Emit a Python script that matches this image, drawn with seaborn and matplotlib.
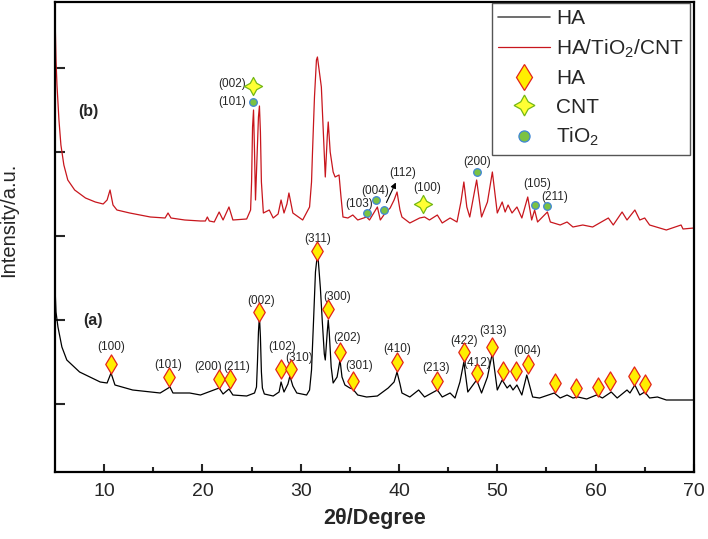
import matplotlib
matplotlib.use("Agg")
import matplotlib.pyplot as plt
from matplotlib.lines import Line2D
import seaborn as sns

# XRD patterns: 2theta (deg) and intensity (arb. units)
ha_2theta = [5.0, 5.1, 5.3, 5.7, 6.2, 7.5, 9.6, 10.3, 10.7, 11.1, 12.9, 15.7, 16.7, 17.0,
             18.7, 19.8, 21.7, 22.1, 22.7, 23.1, 24.5, 25.3, 25.5, 25.6, 25.7, 25.8, 25.9,
             26.0, 26.1, 26.3, 27.2, 27.8, 28.0, 28.3, 28.7, 28.9, 29.2, 29.6, 30.6, 30.9,
             31.1, 31.3, 31.5, 31.7, 31.8, 32.0, 32.2, 32.4, 32.5, 32.7, 32.8, 32.9, 33.1,
             33.3, 33.7, 34.0, 34.2, 34.5, 35.0, 35.3, 35.8, 36.7, 37.8, 38.9, 39.5, 39.8,
             40.1, 40.3, 41.1, 42.0, 42.6, 43.9, 44.4, 45.2, 45.7, 46.2, 46.6, 47.0, 47.9,
             48.4, 49.0, 49.5, 50.0, 50.5, 51.0, 51.3, 51.6, 52.0, 52.5, 53.0, 53.6, 54.3,
             55.8, 56.4, 57.1, 57.7, 58.2, 59.1, 60.1, 60.7, 61.6, 62.2, 63.2, 63.5, 64.0,
             64.5, 65.0, 65.5, 66.3, 67.2, 70.0]
ha_int = [185, 160, 145, 125, 112, 100, 90, 89, 99, 87, 82, 79, 85, 79,
          79, 77, 84, 78, 83, 77, 76, 79, 85, 110, 140, 156, 135,
          100, 84, 78, 76, 80, 90, 80, 88, 96, 86, 79, 77, 82,
          102, 150, 200, 218, 210, 184, 150, 118, 112, 140, 152, 140, 105,
          89, 95, 112, 95, 87, 84, 83, 77, 75, 76, 84, 90, 100,
          88, 79, 75, 82, 75, 82, 75, 79, 74, 90, 110, 80, 92,
          79, 95, 119, 82, 92, 84, 87, 82, 87, 77, 97, 75, 74,
          79, 74, 77, 74, 75, 73, 77, 74, 80, 74, 82, 79, 87,
          77, 80, 74, 75, 72, 72]

comp_2theta = [5.0, 5.1, 5.2, 5.4, 5.6, 5.9, 6.3, 7.0, 8.1, 9.1, 9.9, 10.3, 10.6, 10.9,
               11.3, 12.6, 14.7, 16.2, 16.5, 16.8, 18.2, 19.8, 20.3, 20.5, 20.7, 21.2,
               21.7, 22.1, 22.7, 23.1, 24.5, 24.9, 25.0, 25.1, 25.2, 25.3, 25.4, 25.5,
               25.7, 25.8, 25.9, 26.0, 26.2, 26.8, 27.2, 27.7, 28.0, 28.3, 28.6, 28.8,
               29.2, 30.2, 30.9, 31.1, 31.2, 31.4, 31.6, 31.7, 31.9, 32.1, 32.3, 32.5,
               32.7, 32.8, 33.0, 33.3, 33.5, 33.9, 34.1, 34.3, 34.8, 35.3, 35.8, 36.7,
               37.0, 37.8, 38.1, 38.6, 39.1, 39.5, 39.8, 40.1, 40.3, 41.1, 42.1, 42.6,
               43.1, 43.9, 44.4, 45.2, 45.9, 46.3, 46.6, 46.9, 47.2, 47.9, 48.4, 49.0,
               49.5, 50.0, 50.5, 50.8, 51.1, 51.5, 52.0, 52.5, 53.1, 53.5, 53.8, 54.1,
               55.1, 55.4, 56.4, 57.1, 57.7, 58.7, 59.7, 61.3, 61.8, 62.7, 63.2, 64.0,
               64.5, 65.0, 65.5, 67.2, 68.7, 68.9, 70.0]
comp_int = [457, 412, 387, 352, 327, 307, 292, 282, 274, 270, 268, 272, 282, 267,
            262, 259, 255, 254, 259, 254, 252, 251, 251, 255, 251, 250,
            260, 252, 265, 252, 253, 262, 290, 345, 362, 320, 272, 300,
            355, 366, 340, 290, 259, 262, 254, 258, 272, 259, 268, 279,
            259, 252, 265, 290, 320, 375, 412, 415, 400, 385, 340, 295,
            335, 350, 320, 300, 295, 297, 275, 255, 254, 257, 252, 255,
            252, 265, 252, 259, 264, 272, 280, 262, 255, 249, 254, 255,
            252, 257, 249, 254, 250, 270, 290, 265, 255, 292, 255, 270,
            300, 259, 270, 260, 267, 259, 265, 254, 275, 252, 262, 250,
            260, 250, 247, 250, 245, 247, 245, 254, 247, 260, 252, 262,
            252, 254, 247, 242, 247, 243, 244]

# HA reflections marked on pattern (a)
ha_mark_x = [10.7, 16.6, 21.7, 22.8, 25.8, 28.0, 29.0, 31.7, 32.8, 34.0, 35.3, 39.8,
             43.9, 46.6, 47.9, 49.5, 50.6, 51.9, 53.1, 55.9, 58.0, 60.2, 61.5, 63.9, 65.0]
ha_mark_y = [108, 95, 93, 93, 160, 103, 103, 221, 163, 120, 91, 110,
             91, 120, 99, 125, 101, 101, 108, 89, 84, 85, 91, 96, 88]
ha_hkl = ["(100)", "(101)", "(200)", "(211)", "(002)", "(102)", "(310)", "(311)", "(300)",
          "(202)", "(301)", "(410)", "(213)", "(422)", "(412)", "(313)", "", "", "(004)",
          "", "", "", "", "", ""]
ha_hkl_x = [10.7, 16.5, 20.6, 23.5, 26.0, 28.1, 29.8, 31.7, 33.7, 34.7, 35.9, 39.8,
            43.8, 46.6, 47.9, 49.6, 0, 0, 53.0, 0, 0, 0, 0, 0, 0]
ha_hkl_y = [125, 107, 105, 105, 171, 125, 114, 233, 175, 134, 106, 123,
            104, 131, 109, 141, 0, 0, 121, 0, 0, 0, 0, 0, 0]

# TiO2 and CNT reflections marked on pattern (b)
tio2_x = [25.1, 36.7, 37.7, 38.5, 47.9, 53.8, 55.1]
tio2_y = [370, 259, 272, 262, 300, 267, 266]
tio2_hkl = ["(101)", "(103)", "(004)", "(112)", "(200)", "(105)", "(211)"]
tio2_hkl_x = [23.0, 35.9, 37.6, 40.4, 47.9, 54.1, 55.8]
tio2_hkl_y = [370, 268, 281, 299, 310, 288, 275]
cnt_x = [25.1, 42.4]
cnt_y = [386, 268]
cnt_hkl = ["(002)", "(100)"]
cnt_hkl_x = [23.0, 42.9]
cnt_hkl_y = [388, 284]

red = "#c8161d"
dia_face, dia_edge = "#ffee00", "#e3231b"
cir_face, cir_edge = "#7cc242", "#3f86d6"
star_face, star_edge = "#ffff33", "#74b816"

sns.set_style("ticks")
plt.rcParams["font.family"] = ["Liberation Sans", "DejaVu Sans"]
plt.rcParams["mathtext.default"] = "regular"

fig = plt.figure(figsize=(7.08, 5.39), dpi=100)
ax = fig.add_axes([0.0777, 0.1243, 0.9023, 0.8720])

sns.lineplot(x=ha_2theta, y=ha_int, estimator=None, sort=False, color="black", lw=0.9, ax=ax)
sns.lineplot(x=comp_2theta, y=comp_int, estimator=None, sort=False, color=red, lw=0.9, ax=ax)

sns.scatterplot(x=ha_mark_x, y=ha_mark_y, marker="d", s=95, color=dia_face,
                edgecolor=dia_edge, linewidth=0.9, zorder=4, ax=ax)
sns.scatterplot(x=tio2_x, y=tio2_y, marker="o", s=30, color=cir_face,
                edgecolor=cir_edge, linewidth=0.9, zorder=4, ax=ax)
sns.scatterplot(x=cnt_x, y=cnt_y, marker=(4, 1, 0), s=170, color=star_face,
                edgecolor=star_edge, linewidth=0.9, zorder=4, ax=ax)

for t, x, y in zip(ha_hkl, ha_hkl_x, ha_hkl_y):
    if t:
        ax.text(x, y, t, ha="center", va="center", fontsize=8.5)
for t, x, y in zip(tio2_hkl + cnt_hkl, tio2_hkl_x + cnt_hkl_x, tio2_hkl_y + cnt_hkl_y):
    ax.text(x, y, t, ha="center", va="center", fontsize=8.5)
ax.annotate("", xy=(39.8, 292), xytext=(38.6, 267),
            arrowprops=dict(arrowstyle="-|>", color="black", lw=0.8, mutation_scale=8))

ax.text(8.4, 360, "(b)", fontsize=11.5, fontweight="bold", ha="center", va="center")
ax.text(8.9, 151, "(a)", fontsize=11.5, fontweight="bold", ha="center", va="center")

ax.set_xlim(5, 70)
ax.set_ylim(0, 470)
ax.set_xticks([10, 20, 30, 40, 50, 60, 70])
ax.set_xticks([15, 25, 35, 45, 55, 65], minor=True)
ax.set_yticks([68, 152, 236, 320, 404])
ax.set_yticklabels([])
ax.tick_params(axis="x", which="major", direction="in", length=6, width=1.5, labelsize=14, pad=8)
ax.tick_params(axis="x", which="minor", direction="in", length=3.5, width=1.5)
ax.tick_params(axis="y", direction="in", length=7, width=1.5)
for s in ax.spines.values():
    s.set_linewidth(1.6)
    s.set_color("black")

ax.set_xlabel("2θ/Degree", fontsize=15.5, fontweight="bold", labelpad=6)
ax.set_ylabel("Intensity/a.u.", fontsize=14.5)
ax.yaxis.set_label_coords(-0.058, 0.536)

handles = [
    Line2D([], [], color="#555555", lw=1.2),
    Line2D([], [], color=red, lw=0.9),
    Line2D([], [], ls="none", marker="d", ms=13, mfc=dia_face, mec=dia_edge, mew=0.9),
    Line2D([], [], ls="none", marker=(4, 1, 0), ms=15, mfc=star_face, mec=star_edge, mew=0.9),
    Line2D([], [], ls="none", marker="o", ms=8, mfc=cir_face, mec=cir_edge, mew=0.9),
]
labels = ["HA", "HA/TiO$_2$/CNT", "HA", "CNT", "TiO$_2$"]
leg = ax.legend(handles, labels, loc="upper right", bbox_to_anchor=(0.994, 0.998),
                borderaxespad=0, fontsize=15, handlelength=2.5, handletextpad=0.3,
                labelspacing=0.45, borderpad=0.3, fancybox=False, framealpha=1)
leg.get_frame().set_edgecolor("#555555")
leg.get_frame().set_linewidth(1.0)

fig.savefig("out.png", dpi=100)
